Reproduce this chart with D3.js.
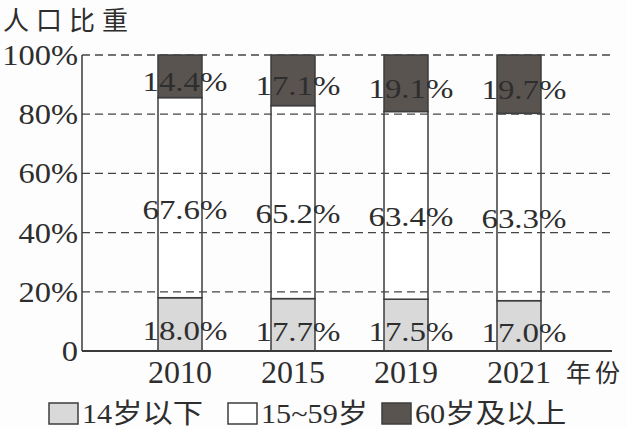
<!doctype html>
<html>

<head>
  <meta charset="utf-8">
  <title>人口比重</title>
  <script src="https://d3js.org/d3.v7.min.js"></script>
  <style>
    html, body { margin: 0; padding: 0; background: #fdfdfd; }
    svg { display: block; }
    text { fill: #2e2e2e; }
  </style>
</head>

<body>
  <div id="chart"></div>
  <script>
    // Data ------------------------------------------------------------------------------------------------
    const years = ["2010", "2015", "2019", "2021"];
    const under15 = [18.0, 17.7, 17.5, 17.0];
    const age15to59 = [67.6, 65.2, 63.4, 63.3];
    const over60 = [14.4, 17.1, 19.1, 19.7];
    const seriesNames = ["14岁以下", "15~59岁", "60岁及以上"];
    const yTicks = [0, 20, 40, 60, 80, 100];

    // Canvas ----------------------------------------------------------------------------------------------
    const width = 627;
    const height = 429;
    const plotLeft = 82, plotRight = 612, plotTop = 55, plotBottom = 351;
    const serif = "'Liberation Serif', 'Times New Roman', Tinos, 'Noto Sans CJK SC'";
    const cjk = "'Noto Sans CJK SC', sans-serif";

    const svg = d3.select("#chart")
      .append("svg")
      .attr("width", width)
      .attr("height", height);

    const y = d3.scaleLinear().domain([0, 100]).range([plotBottom, plotTop]);
    const x = d3.scalePoint().domain(years).range([180, 519]);
    const barWidth = 44;

    const colors = ["#d9d9d9", "#ffffff", "#5a5451"];
    const labelShift = [7, 12, 6];

    // widen serif text a little, the printed font is broader
    function stretch(sel, k) {
      sel.each(function() {
        const len = this.getComputedTextLength();
        d3.select(this).attr("textLength", len * k).attr("lengthAdjust", "spacingAndGlyphs");
      });
    }

    // Stack ------------------------------------------------------------------------------------------------
    const table = years.map((yr, i) => ({ year: yr, a: under15[i], b: age15to59[i], c: over60[i] }));
    const stacked = d3.stack().keys(["a", "b", "c"])(table);

    // Bars -------------------------------------------------------------------------------------------------
    const layers = svg.selectAll("g.layer")
      .data(stacked)
      .enter()
      .append("g")
      .attr("class", "layer")
      .style("fill", (d, i) => colors[i]);

    layers.selectAll("rect")
      .data(d => d)
      .enter()
      .append("rect")
      .attr("x", d => x(d.data.year) - barWidth / 2)
      .attr("width", barWidth)
      .attr("y", d => y(d[1]))
      .attr("height", d => y(d[0]) - y(d[1]))
      .style("stroke", "#3d3d3d")
      .style("stroke-width", 1.5);

    // Grid + axes -------------------------------------------------------------------------------------------
    svg.append("g")
      .selectAll("line")
      .data(yTicks.filter(t => t > 0))
      .enter()
      .append("line")
      .attr("x1", plotLeft)
      .attr("x2", plotRight)
      .attr("y1", d => y(d))
      .attr("y2", d => y(d))
      .style("stroke", "#444")
      .style("stroke-width", 1.3)
      .style("stroke-dasharray", "8,5");

    svg.append("line")
      .attr("x1", plotLeft).attr("x2", plotLeft)
      .attr("y1", y(100)).attr("y2", y(0))
      .style("stroke", "#3a3a3a").style("stroke-width", 1.5);

    svg.append("line")
      .attr("x1", plotLeft).attr("x2", plotRight)
      .attr("y1", y(0)).attr("y2", y(0))
      .style("stroke", "#3a3a3a").style("stroke-width", 1.8);

    svg.append("g")
      .selectAll("text")
      .data(yTicks)
      .enter()
      .append("text")
      .attr("x", plotLeft - 4)
      .attr("y", d => y(d) + 10)
      .attr("text-anchor", "end")
      .style("font-family", serif)
      .style("font-size", "29px")
      .text(d => d === 0 ? "0" : d + "%")
      .call(stretch, 1.12);

    svg.append("g")
      .selectAll("text")
      .data(years)
      .enter()
      .append("text")
      .attr("x", d => x(d))
      .attr("y", 383)
      .attr("text-anchor", "middle")
      .style("font-family", serif)
      .style("font-size", "32px")
      .text(d => d);

    svg.append("text")
      .attr("x", 566)
      .attr("y", 382)
      .style("font-size", "25px")
      .style("font-family", cjk)
      .style("letter-spacing", "4px")
      .text("年份");

    svg.append("text")
      .attr("x", 3)
      .attr("y", 30)
      .style("font-size", "26px")
      .style("font-family", cjk)
      .style("letter-spacing", "7px")
      .text("人口比重");

    // Value labels ------------------------------------------------------------------------------------------
    stacked.forEach((layer, li) => {
      svg.append("g")
        .selectAll("text")
        .data(layer)
        .enter()
        .append("text")
        .attr("x", d => x(d.data.year) + 5)
        .attr("y", d => y((d[0] + d[1]) / 2) + 9 + labelShift[li])
        .attr("text-anchor", "middle")
        .style("font-family", serif)
        .style("font-size", "27px")
        .text(d => (d[1] - d[0]).toFixed(1) + "%")
        .call(stretch, 1.22);
    });

    // Legend -------------------------------------------------------------------------------------------------
    const legendX = [49, 228, 382];
    const legend = svg.append("g")
      .selectAll("g")
      .data(seriesNames)
      .enter()
      .append("g")
      .attr("transform", (d, i) => "translate(" + legendX[i] + ",0)");

    legend.append("rect")
      .attr("x", 0)
      .attr("y", 403)
      .attr("width", 29)
      .attr("height", 21)
      .style("fill", (d, i) => colors[i])
      .style("stroke", "#3d3d3d")
      .style("stroke-width", 1.5);

    legend.append("text")
      .attr("x", 33)
      .attr("y", 423)
      .style("font-family", serif)
      .style("font-size", "27px")
      .text(d => d)
      .call(stretch, 1.12);
  </script>
</body>

</html>
